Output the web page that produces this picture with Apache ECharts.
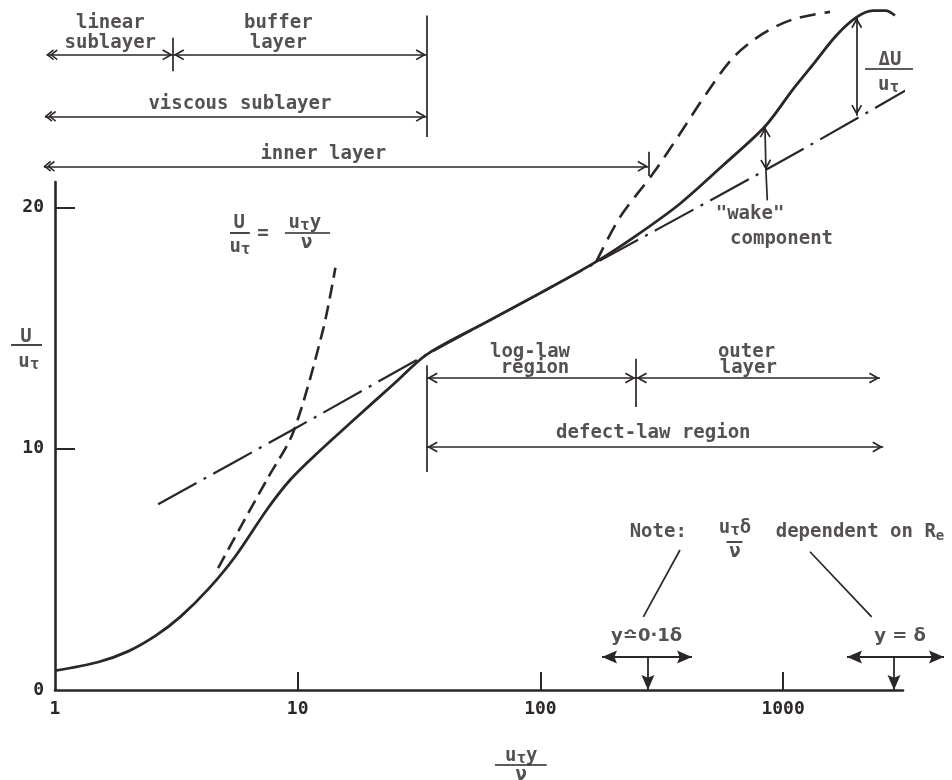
<!DOCTYPE html>
<html><head><meta charset="utf-8">
<script src="https://cdn.jsdelivr.net/npm/echarts@6.0.0/dist/echarts.min.js"></script>
<style>html,body{margin:0;padding:0;background:#fff}#c{width:952px;height:780px}</style>
</head><body><div id="c"></div>
<script>
// ---------- data (x = u_tau*y/nu on log scale, y = U/u_tau) ----------
const xTickValues = [1, 10, 100, 1000];
const yTickValues = [0, 10, 20];

// full velocity profile (solid curve)
const profileX = [1, 1.5, 2, 2.6, 3.3, 4.3, 5.5, 7.5, 9.3, 12, 17.5, 25, 34, 60, 100, 170, 250, 376, 560, 842, 1100, 1325, 1650, 2011, 2350, 2650, 2890];
const profileY = [0.8, 1.15, 1.6, 2.25, 3.05, 4.2, 5.5, 7.5, 8.7, 9.8, 11.3, 12.7, 13.9, 15.25, 16.45, 17.75, 18.85, 20.15, 21.7, 23.35, 24.9, 25.9, 27.1, 27.88, 28.15, 28.15, 27.95];

// viscous sublayer law U/u_tau = u_tau y / nu (dashed)
const linearLawX = [4.7, 6, 7.5, 9.6, 12.7, 14.3];
const linearLawY = [5.05, 7.0, 8.75, 10.7, 14.9, 17.5];

// log law (dash-dot)
const logLawX = [2.66, 10, 34, 100, 1000, 4870];
const logLawY = [7.7, 10.9, 13.9, 16.45, 21.95, 25.9];

// profile with larger wake (dashed)
const wakeDashX = [170, 213, 291, 376, 482, 622, 826, 1105, 1561];
const wakeDashY = [17.75, 19.6, 21.4, 23.05, 24.7, 26.2, 27.2, 27.8, 28.1];

// region arrows [x1, y1, x2, y2, startHead, endHead]
const regionArrows = [
  [0.924, 26.32, 3.07, 26.32, 'double', 'open'],
  [3.07, 26.32, 34.0, 26.32, 'open', 'open'],
  [0.91, 23.77, 34.0, 23.77, 'double', 'open'],
  [0.90, 21.70, 278.6, 21.70, 'double', 'open'],
  [34.0, 12.93, 247.6, 12.93, 'open', 'open'],
  [247.6, 12.93, 2507, 12.93, 'open', 'open'],
  [34.0, 10.07, 2588, 10.07, 'open', 'open'],
  [842, 23.35, 850, 21.53, 'open', 'open'],
  [2011, 27.88, 2011, 23.8, 'open', 'open']
];
// plain lines [x1, y1, x2, y2]
const plainLines = [
  [3.07, 27.03, 3.07, 25.64],
  [34.0, 27.95, 34.0, 22.91],
  [278.6, 22.3, 278.6, 21.3],
  [34.0, 13.46, 34.0, 9.03],
  [247.6, 13.73, 247.6, 11.73],
  [850, 21.53, 861, 20.29],
  [376, 5.80, 265.6, 3.03],
  [1291, 5.73, 2317, 3.03]
];
// fraction bars [xLeft, xRight, y]
const fractionBars = [
  [0.659, 0.884, 14.29], [5.26, 6.35, 18.94], [8.86, 13.6, 18.94],
  [2175, 3430, 25.74], [585, 680, 6.14], [65.0, 106.2, -3.1]
];
// boundary-layer edge markers [xLeft, xRight, xStem, y]
const edgeMarkers = [[179.5, 421.5, 277.5, 1.37], [1834, 4604, 2865, 1.37]];

// texts [text, x, y]
const regionTexts = [
  ['linear', 1.69, 27.63], ['sublayer', 1.69, 26.80], ['buffer', 8.32, 27.63], ['layer', 8.32, 26.80],
  ['viscous sublayer', 5.78, 24.29], ['inner layer', 12.75, 22.19],
  ['log-law', 90.6, 14.01], ['region', 95, 13.32], ['outer', 707, 14.01], ['layer', 719, 13.32],
  ['defect-law region', 292, 10.63], ['"wake"', 731, 19.74], ['component', 986, 18.70],
  ['Note:', 306, 6.56], ['dependent on R{e|e}', 2075, 6.56]
];
const fractionTexts = [
  ['U', 0.76, 14.62], ['u{t|τ}', 0.78, 13.58],
  ['U', 5.74, 19.34], ['u{t|τ}', 5.78, 18.36], ['=', 7.19, 18.91],
  ['u{t|τ}y', 10.7, 19.34], ['ν', 10.9, 18.51],
  ['ΔU', 2756, 26.09], ['u{t|τ}', 2720, 25.05],
  ['u{t|τ}δ', 634, 6.71], ['ν', 634, 5.73],
  ['u{t|τ}y', 83.4, -2.73], ['ν', 83.4, -3.52]
];
const markerTexts = [['y≏0·1δ', 274, 2.21], ['y = δ', 3033, 2.21]];

// ---------- drawing ----------
const INK = '#2b2627';
const MONO = '"DejaVu Sans Mono", monospace';
const SANS = '"DejaVu Sans", sans-serif';
const HEADS = {
  open: {s: 'path://M5 10 L10 18.5 L8.7 19.3 L5 13 L1.3 19.3 L0 18.5 Z M5 0 L5.02 0 L5 0.02 Z', z: [11, 22]},
  double: {s: 'path://M5 10 L10 16.5 L8.8 17.3 L5 12.3 L1.2 17.3 L0 16.5 Z M5 13.5 L10 20 L8.8 20.8 L5 15.8 L1.2 20.8 L0 20 Z M5 0 L5.02 0 L5 0.02 Z', z: [11, 22]},
  solid: {s: 'path://M5 10 L10 20 L5 18.2 L0 20 Z M5 0 L5.02 0 L5 0.02 Z', z: [13, 30]},
  none: {s: 'none', z: 1}
};
const zip = (xs, ys) => xs.map((x, i) => [x, ys[i]]);
function seg(x1, y1, x2, y2, a, b, w) {
  return {coords: [[x1, y1], [x2, y2]], symbol: [HEADS[a].s, HEADS[b].s],
    symbolSize: [HEADS[a].z, HEADS[b].z], lineStyle: {width: w}};
}
const annoData = [];
regionArrows.forEach(r => annoData.push(seg(r[0], r[1], r[2], r[3], r[4], r[5], 1.7)));
plainLines.forEach(r => annoData.push(seg(r[0], r[1], r[2], r[3], 'none', 'none', 1.7)));
fractionBars.forEach(r => annoData.push(seg(r[0], r[2], r[1], r[2], 'none', 'none', 1.7)));
edgeMarkers.forEach(r => {
  annoData.push(seg(r[0], r[3], r[1], r[3], 'solid', 'solid', 2.2));
  annoData.push(seg(r[2], r[3], r[2], 0, 'none', 'solid', 1.8));
});

const RICH = {
  t: {fontFamily: MONO, fontSize: 16, fontWeight: 'bold', color: INK, padding: [5, 0, 0, 0]},
  e: {fontFamily: MONO, fontSize: 14, fontWeight: 'bold', color: INK, padding: [9, 0, 0, 0]}
};
function textSeries(items, family, size) {
  return {
    type: 'scatter', symbol: 'circle', symbolSize: 1, clip: false, silent: true, z: 20,
    itemStyle: {color: 'rgba(0,0,0,0)'},
    data: items.map(t => ({name: t[0], value: [t[1], t[2]]})),
    label: {show: true, position: 'inside', formatter: p => p.name, color: INK,
      fontFamily: family, fontSize: size, fontWeight: 'bold', rich: RICH}
  };
}
function curve(xs, ys, type, w) {
  return {type: 'line', data: zip(xs, ys), symbol: 'none', showSymbol: false, smooth: 0.3, clip: false,
    z: 5, lineStyle: {color: INK, width: w, type: type}};
}

const chart = echarts.init(document.getElementById('c'), null, {renderer: 'canvas'});
chart.setOption({
  animation: false,
  backgroundColor: '#ffffff',
  grid: {left: 55, right: 49, top: 182, bottom: 90, outerBoundsMode: 'none'},
  xAxis: {
    type: 'log', logBase: 10, min: 1, max: 3120,
    axisLine: {show: true, onZero: false, lineStyle: {color: INK, width: 2.6}},
    axisTick: {show: true, inside: true, length: 18, lineStyle: {color: INK, width: 2}, customValues: xTickValues.slice(1)},
    axisLabel: {show: true, color: INK, fontFamily: MONO, fontSize: 18, fontWeight: 'bold', margin: 10, customValues: xTickValues,
      formatter: v => String(Math.round(v))},
    splitLine: {show: false}, minorTick: {show: false}
  },
  yAxis: {
    type: 'value', min: 0, max: 21.05, interval: 10,
    axisLine: {show: true, onZero: false, lineStyle: {color: INK, width: 2.6}},
    axisTick: {show: true, inside: true, length: 20, lineStyle: {color: INK, width: 2}, customValues: yTickValues.slice(1)},
    axisLabel: {show: true, color: INK, fontFamily: MONO, fontSize: 18, fontWeight: 'bold', margin: 11, customValues: yTickValues},
    splitLine: {show: false}
  },
  series: [
    curve(logLawX, logLawY, [44, 8, 3, 8], 2.2),
    curve(linearLawX, linearLawY, [14, 7], 2.6),
    curve(wakeDashX, wakeDashY, [16, 9], 2.6),
    curve(profileX, profileY, 'solid', 2.8),
    {type: 'lines', coordinateSystem: 'cartesian2d', clip: false, z: 8, silent: true,
      lineStyle: {color: INK, width: 1.7, opacity: 1, curveness: 0}, data: annoData},
    textSeries(regionTexts, MONO, 19),
    textSeries(fractionTexts, MONO, 19),
    textSeries(markerTexts, SANS, 18)
  ]
});
</script></body></html>
